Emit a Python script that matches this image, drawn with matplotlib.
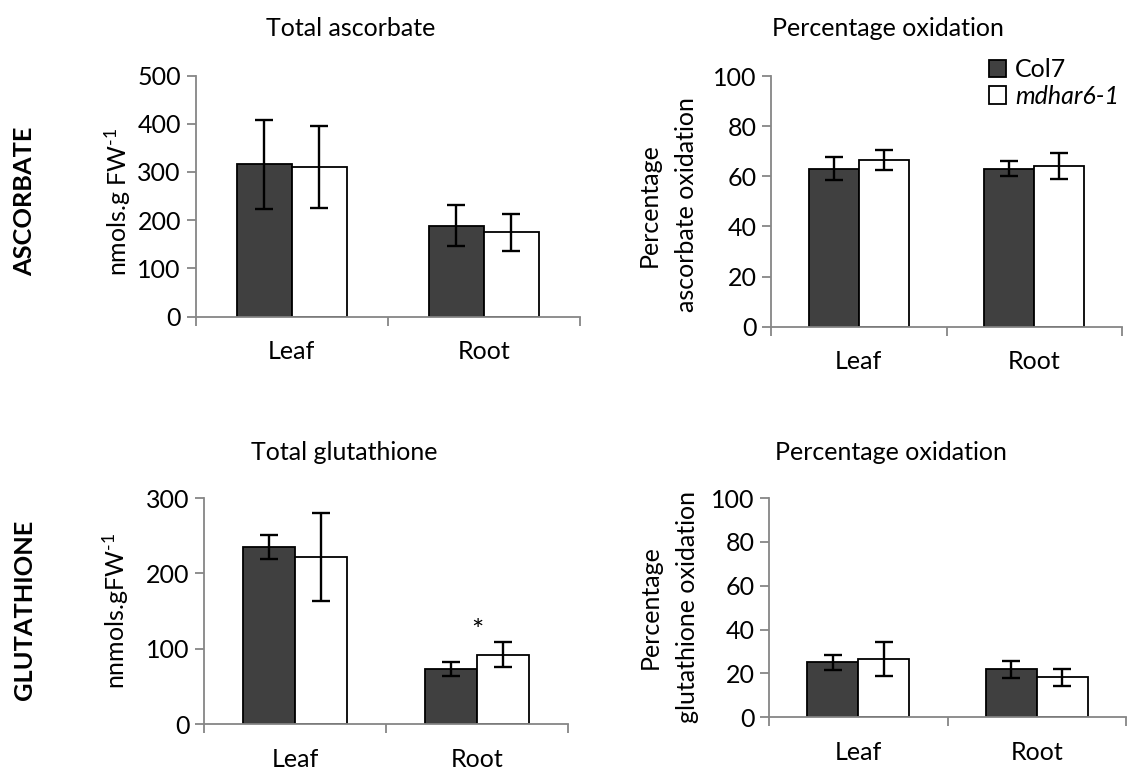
import matplotlib
matplotlib.use('Agg')
import matplotlib.pyplot as plt
import numpy as np

plt.rcParams['font.family'] = ['Lato', 'DejaVu Sans']
plt.rcParams['mathtext.fontset'] = 'custom'
plt.rcParams['mathtext.rm'] = 'Lato'
plt.rcParams['mathtext.it'] = 'Lato:italic'

# ---------------- data ----------------
categories = ['Leaf', 'Root']
series_names = ['Col7', 'mdhar6-1']

asc_total_col7 = [316, 189]
asc_total_col7_err = [92, 42]
asc_total_mdhar = [311, 175]
asc_total_mdhar_err = [85, 38]

asc_ox_col7 = [63.0, 63.0]
asc_ox_col7_err = [4.5, 3.0]
asc_ox_mdhar = [66.5, 64.2]
asc_ox_mdhar_err = [3.9, 5.2]

glu_total_col7 = [235, 73.5]
glu_total_col7_err = [15.5, 9.5]
glu_total_mdhar = [222, 92.5]
glu_total_mdhar_err = [58, 16]

glu_ox_col7 = [25.0, 22.0]
glu_ox_col7_err = [3.3, 3.9]
glu_ox_mdhar = [26.7, 18.2]
glu_ox_mdhar_err = [7.8, 3.7]

signif_marks = ['', '*']  # over glutathione total, per category

# ---------------- style ----------------
W, H = 1131, 773
DPI = 100
DARK = '#404040'
AXC = '#868686'
FS = 18

fig = plt.figure(figsize=(W / DPI, H / DPI), dpi=DPI)
fig.patch.set_facecolor('white')


def px_axes(l, r, t, b):
    return fig.add_axes([l / W, 1 - b / H, (r - l) / W, (b - t) / H])


def fig_text(x, y, s, **kw):
    return fig.text(x / W, 1 - y / H, s, ha='center', va='center', **kw)


def draw_panel(ax, a, a_err, b, b_err, ymax, ystep):
    x = np.arange(len(categories))
    gap = 1.5
    w = 1.0 / (2 + gap)
    b1 = ax.bar(x - w / 2, a, w, color=DARK, edgecolor='black', linewidth=1.3,
                label=series_names[0], zorder=2)
    b2 = ax.bar(x + w / 2, b, w, color='white', edgecolor='black', linewidth=1.3,
                label=series_names[1], zorder=2)
    ax.errorbar(x - w / 2, a, yerr=a_err, fmt='none', ecolor='black',
                elinewidth=1.7, capsize=6.5, capthick=1.7, zorder=3)
    ax.errorbar(x + w / 2, b, yerr=b_err, fmt='none', ecolor='black',
                elinewidth=1.7, capsize=6.5, capthick=1.7, zorder=3)
    ax.set_xlim(-0.5, len(categories) - 0.5)
    ax.set_ylim(0, ymax)
    ax.set_yticks(np.arange(0, ymax + ystep / 2, ystep))
    ax.set_xticks(np.arange(-0.5, len(categories), 1.0))
    ax.set_xticklabels([])
    ax.set_xticks(x, minor=True)
    ax.set_xticklabels(categories, minor=True)
    ax.tick_params(axis='x', which='major', direction='out', length=6.5,
                   width=1.3, color=AXC)
    ax.tick_params(axis='x', which='minor', length=0, pad=17, labelsize=FS)
    ax.tick_params(axis='y', direction='out', length=6.5, width=1.3,
                   color=AXC, labelsize=FS, pad=4)
    for s in ['top', 'right']:
        ax.spines[s].set_visible(False)
    for s in ['left', 'bottom']:
        ax.spines[s].set_color(AXC)
        ax.spines[s].set_linewidth(1.3)
    ax.set_facecolor('none')
    return b1, b2, x, w


# Panel 1: total ascorbate
ax1 = px_axes(195.5, 580, 75.5, 316.7)
draw_panel(ax1, asc_total_col7, asc_total_col7_err, asc_total_mdhar,
           asc_total_mdhar_err, 500, 100)
fig_text(351, 28, 'Total ascorbate', fontsize=FS)
fig_text(118, 202, r'nmols.g FW$^{\text{-1}}$', fontsize=FS, rotation=90)

# Panel 2: ascorbate oxidation
ax2 = px_axes(771, 1122, 76, 326.7)
b1, b2, _, _ = draw_panel(ax2, asc_ox_col7, asc_ox_col7_err, asc_ox_mdhar,
                          asc_ox_mdhar_err, 100, 20)
fig_text(888, 29, 'Percentage oxidation', fontsize=FS)
fig_text(668, 205, 'Percentage\nascorbate oxidation', fontsize=FS,
         rotation=90, linespacing=1.75)
leg = ax2.legend(handles=[b1, b2], labels=series_names, loc='upper left',
                 bbox_to_anchor=(989 / W, 1 - 58 / H),
                 bbox_transform=fig.transFigure, frameon=False,
                 fontsize=FS, handlelength=0.7, handleheight=0.7,
                 handletextpad=0.35, labelspacing=0.15, borderpad=0,
                 borderaxespad=0)
leg.get_texts()[1].set_fontstyle('italic')

# Panel 3: total glutathione
ax3 = px_axes(204, 568, 498, 724.3)
_, _, x3, w3 = draw_panel(ax3, glu_total_col7, glu_total_col7_err,
                          glu_total_mdhar, glu_total_mdhar_err, 300, 100)
for i, m in enumerate(signif_marks):
    if m:
        top = max(glu_total_col7[i] + glu_total_col7_err[i],
                  glu_total_mdhar[i] + glu_total_mdhar_err[i])
        ax3.annotate(m, (x3[i], top), xytext=(0, -1.5), textcoords='offset points',
                     ha='center', va='bottom', fontsize=21)
fig_text(344, 452, 'Total glutathione', fontsize=FS)
fig_text(116, 611, r'nnmols.gFW$^{\text{-1}}$', fontsize=FS, rotation=90)

# Panel 4: glutathione oxidation
ax4 = px_axes(769, 1126, 498, 717.3)
draw_panel(ax4, glu_ox_col7, glu_ox_col7_err, glu_ox_mdhar, glu_ox_mdhar_err,
           100, 20)
fig_text(891, 452, 'Percentage oxidation', fontsize=FS)
fig_text(669, 607, 'Percentage\nglutathione oxidation', fontsize=FS,
         rotation=90, linespacing=1.75)

# Row labels
fig_text(25, 201, 'ASCORBATE', fontsize=18.3, fontweight='bold', rotation=90)
fig_text(25, 610, 'GLUTATHIONE', fontsize=18.3, fontweight='bold', rotation=90)

fig.savefig('out.png', dpi=DPI, facecolor='white')
